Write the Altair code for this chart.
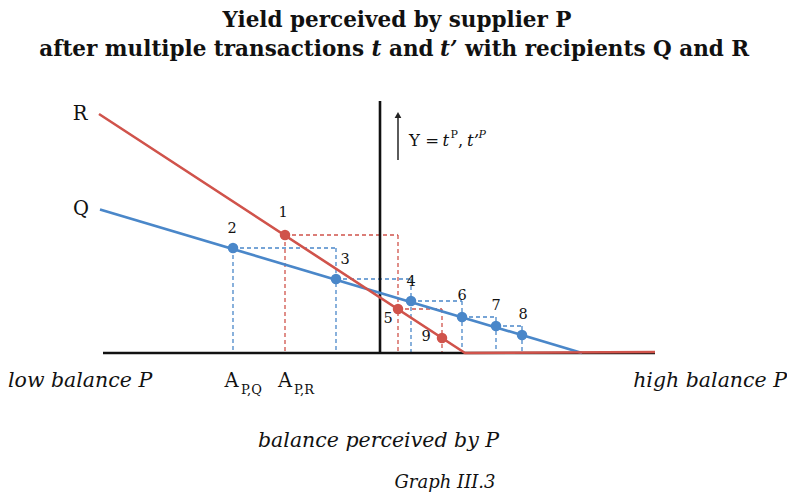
import altair as alt
import pandas as pd

RED = "#D0534B"
BLUE = "#4A87C9"
INK = "#111111"
SERIF = "DejaVu Serif"

# ---- data: x = balance perceived by P (0 at the Y axis), y = yield (0 on the balance axis)
r_curve_x = [-281, 85, 275]
r_curve_y = [239, 0, 1]
q_curve_x = [-280, 202]
q_curve_y = [143.5, 0]

red_ids = ["1", "5", "9"]
red_x = [-95, 18, 62]
red_y = [118, 44, 15]
red_lab_x = [-97, 8, 46]
red_lab_y = [140, 34, 16]

blue_ids = ["2", "3", "4", "6", "7", "8"]
blue_x = [-147, -44, 31, 82, 116, 142]
blue_y = [105, 74, 52, 36, 27, 18]
blue_lab_x = [-148, -35, 31, 82, 116, 143]
blue_lab_y = [124, 93, 71, 57, 47, 38]

axis_x_span = [-277, 275]
axis_y_top = 252
arrow_y = [193, 238]

xs = alt.Scale(domain=[-372, 407], nice=False, zero=False)
ys = alt.Scale(domain=[-143, 345], nice=False, zero=False)


def X(f="x"):
    return alt.X(f"{f}:Q", scale=xs, axis=None)


def Y(f="y"):
    return alt.Y(f"{f}:Q", scale=ys, axis=None)


def cobweb(px, py):
    rows = []
    for i in range(len(px)):
        top = py[i] if i == 0 else py[i - 1]
        rows.append(dict(x=px[i], x2=px[i], y=top, y2=0))
        if i + 1 < len(px):
            rows.append(dict(x=px[i], x2=px[i + 1], y=py[i], y2=py[i]))
    return pd.DataFrame(rows)


def rules(df, color, width, dash=None):
    kw = dict(color=color, strokeWidth=width)
    if dash:
        kw["strokeDash"] = dash
    return alt.Chart(df).mark_rule(**kw).encode(
        x=X(), x2=alt.X2("x2"), y=Y(), y2=alt.Y2("y2"))


def text(rows, **kw):
    df = pd.DataFrame(rows, columns=["t", "x", "y"])
    base = dict(font=SERIF, color=INK)
    base.update(kw)
    return alt.Chart(df).mark_text(**base).encode(x=X(), y=Y(), text="t:N")


layers = []
layers.append(rules(cobweb(blue_x, blue_y), BLUE, 1.3, [4, 3]))
layers.append(rules(cobweb(red_x, red_y), RED, 1.3, [4, 3]))

axes_df = pd.DataFrame([
    dict(x=0, x2=0, y=0, y2=axis_y_top),
    dict(x=axis_x_span[0], x2=axis_x_span[1], y=0, y2=0),
])
layers.append(rules(axes_df, INK, 2.6))

q_df = pd.DataFrame({"x": q_curve_x, "y": q_curve_y, "o": range(len(q_curve_x))})
r_df = pd.DataFrame({"x": r_curve_x, "y": r_curve_y, "o": range(len(r_curve_x))})
layers.append(alt.Chart(q_df).mark_line(color=BLUE, strokeWidth=2.6).encode(
    x=X(), y=Y(), order="o:Q"))
layers.append(alt.Chart(r_df).mark_line(color=RED, strokeWidth=2.6).encode(
    x=X(), y=Y(), order="o:Q"))

pts_b = pd.DataFrame({"x": blue_x, "y": blue_y})
pts_r = pd.DataFrame({"x": red_x, "y": red_y})
layers.append(alt.Chart(pts_b).mark_point(filled=True, shape="circle", size=110,
                                          color=BLUE, opacity=1).encode(x=X(), y=Y()))
layers.append(alt.Chart(pts_r).mark_point(filled=True, shape="circle", size=110,
                                          color=RED, opacity=1).encode(x=X(), y=Y()))

# arrow on the Y axis
arrow_df = pd.DataFrame([dict(x=18, x2=18, y=arrow_y[0], y2=arrow_y[1] - 3)])
layers.append(rules(arrow_df, "#333333", 1.6))
layers.append(alt.Chart(pd.DataFrame({"x": [18], "y": [arrow_y[1]]})).mark_point(
    shape="triangle-up", filled=True, size=45, color="#222222", opacity=1).encode(x=X(), y=Y()))

# number labels
num_rows = [(t, x, y) for t, x, y in zip(red_ids, red_lab_x, red_lab_y)] + \
           [(t, x, y) for t, x, y in zip(blue_ids, blue_lab_x, blue_lab_y)]
layers.append(text(num_rows, fontSize=14.5, align="center", baseline="middle"))

# curve names
layers.append(text([("R", -300, 239), ("Q", -299, 144)], fontSize=19.5,
                   align="center", baseline="middle"))

# titles
TS = 21.5
layers.append(text([("Yield perceived by supplier P", 17, 326)], fontSize=TS,
                   fontWeight="bold", align="center", baseline="alphabetic"))
layers.append(text([("after multiple transactions", -16, 297)], fontSize=TS,
                   fontWeight="bold", align="right", baseline="alphabetic"))
layers.append(text([("t", -8.5, 297), ("t\u2019", 60, 297)], fontSize=TS,
                   fontWeight="bold", fontStyle="italic", align="left", baseline="alphabetic"))
layers.append(text([("and", 9, 297), ("with recipients Q and R", 85, 297)], fontSize=TS,
                   fontWeight="bold", align="left", baseline="alphabetic"))

# Y label
layers.append(text([("Y =", 29, 212), (",", 78, 212)], fontSize=16.5, align="left", baseline="middle"))
layers.append(text([("t", 62.5, 212), ("t\u2019", 87, 212)], fontSize=16.5, fontStyle="italic",
                   align="left", baseline="middle"))
layers.append(text([("P", 70.5, 218)], fontSize=11, align="left", baseline="middle"))
layers.append(text([("P", 98.5, 218)], fontSize=11, fontStyle="italic", align="left", baseline="middle"))

# axis texts
layers.append(text([("low balance P", -372, -28)], fontSize=20.5, fontStyle="italic",
                   align="left", baseline="middle"))
layers.append(text([("high balance P", 407, -28)], fontSize=20.5, fontStyle="italic",
                   align="right", baseline="middle"))
layers.append(text([("A", -148.5, -27.5), ("A", -95, -27.5)], fontSize=19.5,
                   align="center", baseline="middle"))
layers.append(text([("P,Q", -139, -37), ("P,R", -86, -37)], fontSize=13,
                   align="left", baseline="middle"))
layers.append(text([("balance perceived by P", -1.5, -88)], fontSize=20.5, fontStyle="italic",
                   align="center", baseline="middle"))
layers.append(text([("Graph III.3", 65, -130)], fontSize=18, fontStyle="italic",
                   align="center", baseline="middle"))

chart = alt.layer(*layers).properties(
    width=779, height=488, padding=0, autosize="none", background="white"
).configure_view(stroke=None)

chart.save("out.html", embed_options={"renderer": "svg", "actions": False})
